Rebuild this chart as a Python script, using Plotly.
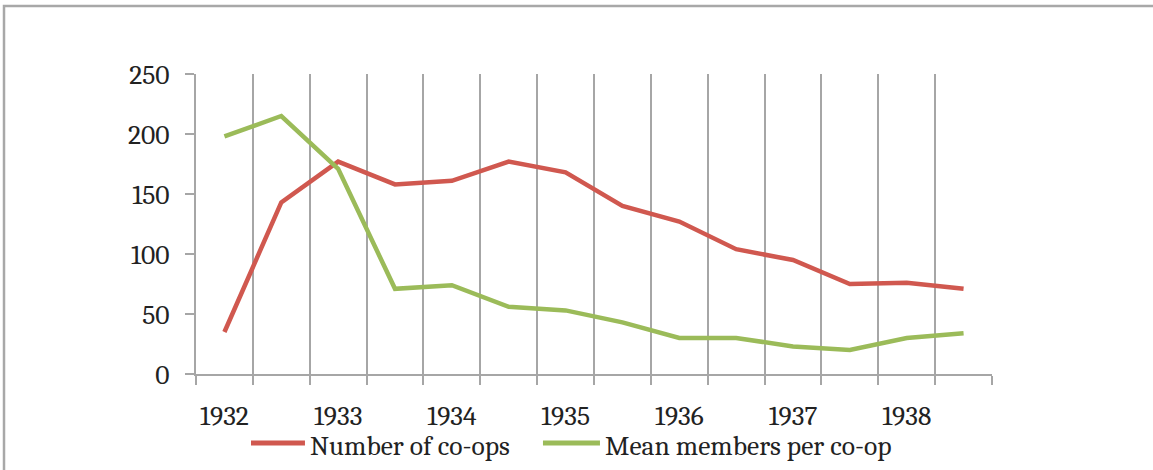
import plotly.graph_objects as go

# DATA ---------------------------------
periods = ['1932-1', '1932-2', '1933-1', '1933-2', '1934-1', '1934-2', '1935-1',
           '1935-2', '1936-1', '1936-2', '1937-1', '1937-2', '1938-1', '1938-2']
coops = [35, 143, 177, 158, 161, 177, 168, 140, 127, 104, 95, 75, 76, 71]
members = [198, 215, 171, 71, 74, 56, 53, 43, 30, 30, 23, 20, 30, 34]
years = ['1932', '1933', '1934', '1935', '1936', '1937', '1938']
series_names = ['Number of co-ops', 'Mean members per co-op']

x = list(range(len(periods)))
tick_pos = [i for i, p in enumerate(periods) if p.endswith('-1')]

# STYLE ---------------------------------
font_family = "Cambria, 'Liberation Serif', serif"
fsize = 27.5
grey = '#a6a6a6'
red = '#D0584F'
green = '#9BBB59'
txt = '#222222'

fig = go.Figure()
fig.add_trace(go.Scatter(x=x, y=coops, mode='lines', name=series_names[0],
                         line=dict(color=red, width=4.5)))
fig.add_trace(go.Scatter(x=x, y=members, mode='lines', name=series_names[1],
                         line=dict(color=green, width=4.5)))

fig.update_xaxes(
    range=[-0.5, len(periods) - 0.5],
    tickvals=tick_pos, ticktext=years, tickangle=0,
    ticks='', showgrid=False, zeroline=False,
    showline=True, linecolor=grey, linewidth=2,
    ticklabelstandoff=16,
    tickfont=dict(family=font_family, size=fsize, color=txt),
    minor=dict(tick0=-0.5, dtick=1, ticks='outside', ticklen=9, tickcolor=grey,
               tickwidth=2, showgrid=True, gridcolor=grey, gridwidth=1.6),
)
fig.update_yaxes(
    range=[0, 250], dtick=50,
    ticks='outside', ticklen=9, tickcolor=grey, tickwidth=2,
    showgrid=False, zeroline=False,
    showline=True, linecolor=grey, linewidth=2,
    ticklabelstandoff=10,
    tickfont=dict(family=font_family, size=fsize, color=txt),
)

# chart border (only top and left edges visible in the crop)
fig.add_shape(type='rect', xref='paper', yref='paper',
              x0=-0.2412, x1=1.4, y0=-0.6, y1=1.2267,
              line=dict(color='#a8a8a8', width=2.5), layer='below')

# legend drawn by hand so it sits below the axis like the Excel one
legend_items = [(series_names[0], red, 0.0691, 0.1369),
                (series_names[1], green, 0.4359, 0.5075)]
for name, col, lx0, lx1 in legend_items:
    fig.add_shape(type='line', xref='paper', yref='paper',
                  x0=lx0, x1=lx1, y0=-0.2300, y1=-0.2300,
                  line=dict(color=col, width=5))
    fig.add_annotation(xref='paper', yref='paper', x=lx1 + 0.004, y=-0.24,
                       xanchor='left', yanchor='middle', showarrow=False,
                       text=name, font=dict(family=font_family, size=fsize, color=txt))

fig.update_layout(
    width=1153, height=470,
    margin=dict(l=196, r=161, t=74, b=96),
    plot_bgcolor='white', paper_bgcolor='white',
    font=dict(family=font_family, size=fsize, color=txt),
    showlegend=False,
)

# drop the page's default body margin so the figure starts at the window corner
fig.write_html('out.html', config={'displayModeBar': False},
               post_script="document.body.style.margin='0';")
